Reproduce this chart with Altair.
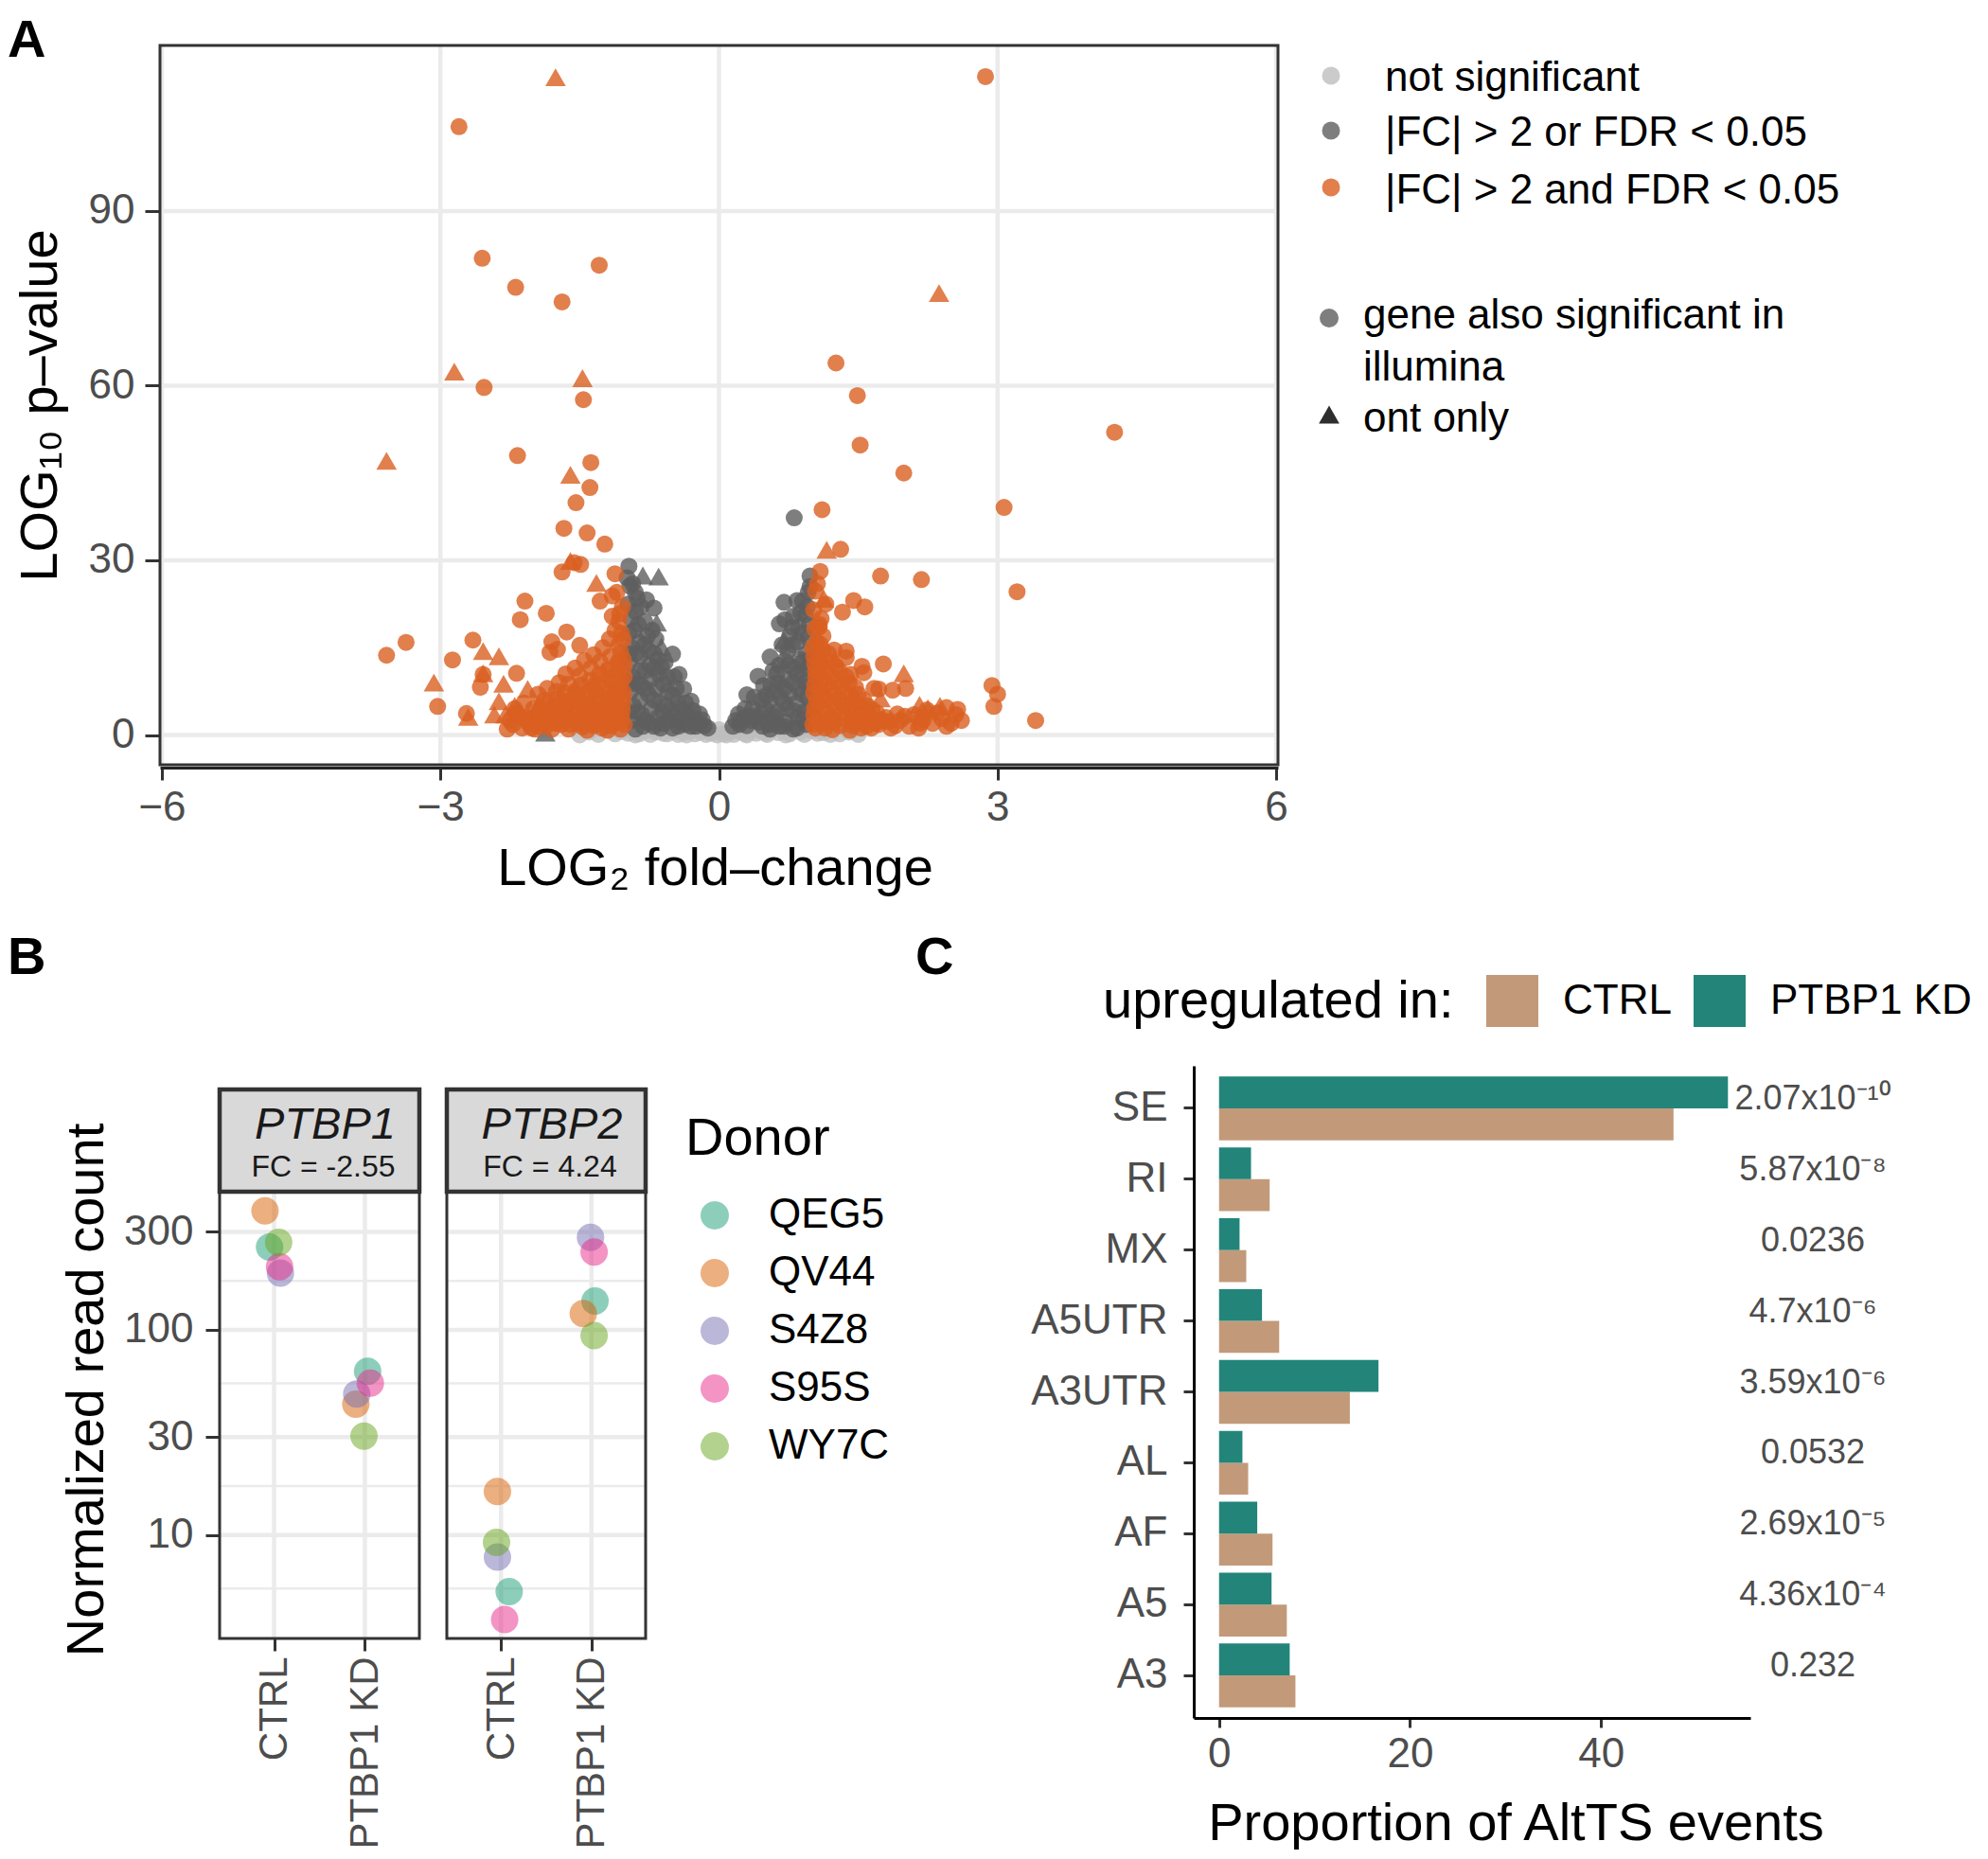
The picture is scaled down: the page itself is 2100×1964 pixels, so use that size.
import altair as alt
import pandas as pd

FONT = "Liberation Sans"
GRID = "#EBEBEB"
TICKLAB = "#4D4D4D"
DARK = "#333333"

# ------------------------------------------------------------------
# Panel A data  (LOG2 fold-change, LOG10 p-value)
# ------------------------------------------------------------------
ns_circles = [(-1.05, 0.6), (-0.98, 0.3), (-0.92, 0.9), (-0.86, 0.2), (-0.8, 0.7), (-0.74, 0.1),
              (-0.68, 0.5), (-0.62, 0.9), (-0.56, 0.2), (-0.5, 0.6), (-0.44, 0.1), (-0.38, 0.4),
              (-0.32, 0.8), (-0.26, 0.2), (-0.2, 0.5), (-0.14, 0.1), (-0.08, 0.3), (-0.02, 0.0),
              (0.04, 0.2), (0.1, 0.4), (0.16, 0.1), (0.22, 0.6), (0.28, 0.2), (0.34, 0.8), (0.4, 0.3),
              (0.46, 0.6), (0.52, 0.1), (0.58, 0.9), (0.64, 0.4), (0.7, 0.7), (0.76, 0.2), (0.82, 1.0),
              (0.88, 0.5), (0.94, 1.2), (1.0, 0.7), (1.06, 0.3), (-1.12, 0.2), (1.12, 0.4), (-0.95, 1.6),
              (0.95, 1.8), (-0.7, 1.2), (0.7, 1.4), (-0.45, 1.0), (0.45, 1.1), (-1.3, 0.1), (1.3, 0.2),
              (-1.5, 0.0), (1.5, 0.1),
              (-1.4, 0.5), (-1.2, 0.9), (-1.1, 1.2), (-0.9, 0.0), (-0.8, 1.5), (-0.6, 0.3), (-0.5, 1.3),
              (-0.35, 0.0), (-0.25, 1.0), (-0.1, 0.6), (0.0, 0.9), (0.08, 0.0), (0.2, 1.0), (0.3, 0.0),
              (0.4, 1.3), (0.5, 0.3), (0.62, 1.6), (0.72, 0.0), (0.85, 1.5), (0.92, 0.1), (1.02, 1.4),
              (1.1, 0.8), (1.2, 0.1), (1.4, 0.5), (1.2, 1.2), (-1.0, 2.0), (1.0, 2.2)]
ns_triangles = [(-0.86, 2.0), (-0.57, 1.8), (-0.36, 2.0), (-0.33, 1.4), (0.75, 2.0), (0.6, 1.5), (-0.75, 1.3)]

one_circles = [(-0.97, 29.0), (-0.96, 25.6), (-0.78, 23.2), (-0.70, 21.8), (-0.90, 21.2), (-0.72, 18.0),
               (-0.50, 13.9), (-0.43, 10.4), (-0.38, 7.9), (-0.30, 5.8), (-0.21, 3.6),
               (-0.98, 22.5), (-0.95, 20.0), (-0.97, 17.5), (-0.94, 15.0), (-0.96, 12.5), (-0.93, 10.0),
               (-0.95, 7.5), (-0.92, 5.0), (-0.94, 2.5), (-0.9, 1.0),
               (-0.88, 23.5), (-0.87, 19.0), (-0.86, 16.0), (-0.85, 13.5), (-0.86, 11.0), (-0.84, 8.5),
               (-0.85, 6.0), (-0.83, 3.5), (-0.82, 1.5),
               (-0.77, 17.0), (-0.76, 14.5), (-0.75, 12.0), (-0.74, 9.5), (-0.76, 7.0), (-0.73, 4.5), (-0.75, 2.0),
               (-0.68, 16.5), (-0.66, 13.0), (-0.65, 10.5), (-0.67, 8.0), (-0.64, 5.5), (-0.66, 3.0), (-0.63, 1.2),
               (-0.58, 12.5), (-0.56, 10.0), (-0.55, 7.5), (-0.57, 5.0), (-0.54, 2.5),
               (-0.48, 10.0), (-0.46, 8.0), (-0.45, 5.5), (-0.47, 3.2), (-0.44, 1.5),
               (-0.36, 5.5), (-0.35, 3.5), (-0.37, 1.8), (-0.28, 4.2), (-0.26, 2.8), (-0.25, 1.5),
               (-0.18, 2.6), (-0.16, 1.6), (-0.12, 1.2),
               (-0.99, 27.0), (-0.93, 26.0), (-0.9, 24.5), (-0.84, 22.0), (-0.8, 19.5), (-0.91, 18.0),
               (-0.8, 15.5), (-0.89, 14.0), (-0.7, 14.0), (-0.8, 11.0), (-0.9, 8.8), (-0.7, 11.5),
               (-0.62, 11.8), (-0.8, 8.0), (-0.6, 8.8), (-0.7, 6.0), (-0.88, 4.0), (-0.5, 6.8),
               (-0.6, 3.8), (-0.8, 2.5), (-0.41, 4.5), (-0.52, 4.2), (-0.7, 1.5), (-0.32, 3.0),
               (-0.42, 2.5), (-0.6, 2.0), (-0.22, 2.0), (-0.3, 1.5), (-0.5, 1.2), (-0.98, 9.0),
               (-0.98, 4.0), (-0.97, 14.0),
               (0.81, 37.3), (0.98, 27.3), (0.70, 22.8), (0.84, 23.1), (0.65, 19.1), (0.80, 20.4),
               (0.93, 20.7), (0.96, 16.6), (0.55, 13.4), (0.42, 10.1), (0.30, 6.9), (0.21, 3.6),
               (0.96, 24.5), (0.95, 22.0), (0.97, 19.0), (0.94, 14.0), (0.96, 11.5), (0.93, 9.0),
               (0.95, 6.5), (0.92, 4.0), (0.94, 1.8),
               (0.86, 18.5), (0.85, 16.0), (0.87, 13.0), (0.84, 10.5), (0.86, 8.0), (0.83, 5.5),
               (0.85, 3.0), (0.84, 1.2),
               (0.76, 17.0), (0.74, 14.5), (0.75, 12.0), (0.73, 9.5), (0.76, 7.0), (0.74, 4.5), (0.72, 2.2),
               (0.68, 15.5), (0.65, 12.0), (0.64, 9.0), (0.66, 6.5), (0.63, 4.0), (0.65, 1.5),
               (0.58, 11.0), (0.56, 8.5), (0.55, 6.0), (0.57, 3.5), (0.54, 1.8),
               (0.48, 8.5), (0.46, 6.0), (0.45, 3.8), (0.47, 1.5),
               (0.38, 6.5), (0.36, 4.5), (0.35, 2.5), (0.28, 4.5), (0.26, 2.8), (0.18, 2.5), (0.15, 1.5),
               (0.98, 25.5), (0.9, 23.0), (0.88, 21.0), (0.79, 18.5), (0.9, 17.5), (0.71, 19.8),
               (0.79, 15.5), (0.9, 12.5), (0.71, 12.8), (0.8, 11.5), (0.9, 10.5), (0.62, 10.5),
               (0.8, 9.0), (0.7, 8.0), (0.9, 7.0), (0.6, 7.5), (0.51, 6.8), (0.7, 5.5), (0.8, 4.2),
               (0.5, 4.5), (0.6, 3.0), (0.9, 2.6), (0.41, 3.0), (0.7, 1.5), (0.32, 3.2), (0.43, 2.2),
               (0.8, 1.0), (0.22, 1.8), (0.3, 1.6), (0.55, 1.0), (0.98, 13.0), (0.98, 8.5), (0.98, 4.5)]
one_triangles = [(-0.82, 27.4), (-0.65, 27.2), (-0.67, 19.3), (-1.87, 0.4), (0.70, 16.3), (-0.62, 15.2)]

both_circles = [
    # isolated, left
    (-2.80, 104.5), (-2.55, 81.9), (-1.29, 80.7), (-2.19, 76.9), (-1.69, 74.4), (-2.53, 59.7),
    (-1.46, 57.6), (-2.17, 48.0), (-1.38, 46.8), (-1.39, 42.5), (-1.54, 39.9), (-1.67, 35.5),
    (-1.42, 34.7), (-1.23, 32.8), (-1.49, 29.3), (-1.56, 29.6), (-1.69, 28.0), (-1.12, 27.7),
    (-1.15, 23.9), (-1.28, 23.0), (-2.09, 23.0), (-1.86, 20.9), (-2.14, 19.8), (-1.15, 20.4),
    (-3.37, 15.9), (-3.58, 13.7), (-2.65, 16.3), (-2.87, 12.9), (-1.64, 17.7), (-1.80, 16.0),
    (-1.50, 15.4), (-1.82, 14.2), (-1.74, 14.7), (-2.18, 10.6), (-2.54, 10.4), (-2.57, 8.2),
    (-3.03, 4.9), (-2.72, 3.7),
    # dense, left
    (-2.25, 2.5), (-2.15, 3.2), (-2.05, 2.0), (-2.0, 4.5), (-1.95, 1.5), (-1.9, 3.5), (-1.88, 6.0),
    (-1.82, 2.5), (-1.78, 4.8), (-1.75, 7.5), (-1.7, 1.8), (-1.68, 3.6), (-1.65, 5.8), (-1.62, 8.8),
    (-1.58, 2.6), (-1.55, 4.4), (-1.52, 6.8), (-1.5, 10.2), (-1.47, 1.4), (-1.45, 3.2), (-1.43, 5.2),
    (-1.4, 7.6), (-1.38, 11.5), (-1.36, 2.2), (-1.34, 4.1), (-1.32, 6.2), (-1.3, 8.8), (-1.28, 12.6),
    (-1.26, 1.2), (-1.24, 3.0), (-1.22, 5.0), (-1.2, 7.0), (-1.18, 9.6), (-1.17, 13.5), (-1.15, 2.0),
    (-1.13, 4.0), (-1.12, 6.0), (-1.1, 8.2), (-1.09, 11.0), (-1.08, 15.5), (-1.06, 1.0), (-1.05, 3.0),
    (-1.04, 5.2), (-1.03, 7.4), (-1.02, 10.0), (-1.03, 13.0), (-1.05, 17.5), (-1.08, 19.5),
    (-1.04, 22.0), (-1.1, 24.5), (-1.12, 18.0), (-1.18, 16.5), (-1.25, 15.0), (-1.35, 13.8),
    (-1.45, 12.8), (-1.55, 11.5), (-1.65, 10.5), (-1.72, 9.0), (-1.85, 8.0), (-1.95, 7.0),
    (-2.1, 5.5), (-2.2, 4.5), (-1.62, 1.0), (-1.8, 1.0), (-1.98, 1.0), (-2.12, 1.2), (-1.42, 0.8), (-1.2, 0.8),
    (-2.28, 1.0), (-2.22, 1.8), (-2.18, 3.8), (-2.08, 2.8), (-2.02, 1.2), (-1.98, 3.2), (-1.92, 4.6),
    (-1.9, 2.2), (-1.86, 1.6), (-1.84, 5.4), (-1.8, 3.4), (-1.76, 2.0), (-1.74, 6.2), (-1.72, 4.2),
    (-1.69, 2.8), (-1.66, 7.2), (-1.64, 4.8), (-1.6, 1.8), (-1.6, 6.0), (-1.57, 3.6), (-1.54, 7.6),
    (-1.53, 2.0), (-1.5, 5.6), (-1.48, 8.6), (-1.46, 3.9), (-1.44, 2.4), (-1.41, 6.6), (-1.39, 9.4),
    (-1.37, 4.8), (-1.35, 1.6), (-1.33, 7.4), (-1.31, 3.4), (-1.29, 10.4), (-1.27, 5.8), (-1.25, 2.4),
    (-1.23, 8.2), (-1.21, 4.2), (-1.19, 11.2), (-1.17, 6.4), (-1.16, 1.6), (-1.14, 9.0), (-1.12, 3.2),
    (-1.1, 5.2), (-1.08, 12.6), (-1.07, 7.6), (-1.06, 2.4), (-1.05, 9.2), (-1.04, 4.2), (-1.03, 6.4),
    (-1.02, 11.8), (-1.02, 1.8), (-1.06, 14.2), (-1.03, 16.4), (-1.07, 20.8),
    # isolated, right
    (2.87, 113.1), (1.26, 63.9), (1.49, 58.3), (4.26, 52.0), (1.52, 49.8), (1.99, 45.0), (1.11, 38.7),
    (3.07, 39.1), (1.31, 31.9), (1.09, 28.1), (1.74, 27.3), (2.18, 26.7), (3.21, 24.6), (1.04, 24.7),
    (1.45, 23.1), (1.57, 22.0), (1.33, 21.1), (1.08, 18.5), (1.24, 14.6), (1.37, 14.4), (1.37, 13.3),
    (1.54, 11.8), (1.77, 12.2), (1.42, 10.4), (1.56, 10.7), (1.72, 7.9), (1.87, 7.7), (2.01, 8.0),
    (2.94, 8.5), (3.00, 7.0), (2.96, 4.9), (3.41, 2.5), (2.24, 4.3), (2.45, 4.7), (2.57, 4.4),
    (2.61, 2.5), (2.17, 2.0), (2.18, 3.0), (1.92, 3.6), (1.69, 2.0), (1.82, 2.3), (1.67, 8.0),
    # dense, right
    (1.02, 21.5), (1.05, 16.0), (1.1, 20.0), (1.12, 17.0), (1.02, 13.5), (1.04, 11.0), (1.03, 8.5),
    (1.05, 6.0), (1.02, 3.5), (1.04, 1.2), (1.12, 14.5), (1.1, 12.0), (1.13, 9.5), (1.11, 7.0),
    (1.14, 4.5), (1.1, 2.0), (1.2, 12.5), (1.22, 10.0), (1.19, 7.8), (1.23, 5.5), (1.2, 3.0),
    (1.22, 0.9), (1.3, 11.0), (1.32, 8.5), (1.29, 6.2), (1.33, 4.0), (1.3, 1.6), (1.4, 9.0),
    (1.42, 6.8), (1.39, 4.6), (1.43, 2.4), (1.41, 0.8), (1.5, 7.0), (1.52, 5.0), (1.49, 3.0),
    (1.53, 1.2), (1.6, 5.0), (1.62, 3.2), (1.59, 1.5), (1.7, 3.8), (1.72, 1.8), (1.8, 3.0),
    (1.85, 1.2), (1.95, 2.5), (2.05, 1.5), (2.1, 3.5), (2.3, 2.0), (2.45, 1.5), (2.35, 3.8),
    (1.06, 26.0), (1.15, 22.5), (1.08, 19.0),
    (1.01, 1.8), (1.03, 4.6), (1.02, 7.2), (1.04, 9.8), (1.03, 12.2), (1.01, 15.0), (1.03, 18.2),
    (1.06, 2.6), (1.07, 5.4), (1.08, 8.0), (1.07, 10.8), (1.08, 13.2), (1.09, 15.6), (1.14, 1.2),
    (1.16, 3.6), (1.15, 6.2), (1.17, 8.8), (1.16, 11.2), (1.18, 14.0), (1.24, 2.2), (1.26, 4.6),
    (1.25, 7.0), (1.27, 9.2), (1.26, 11.8), (1.34, 2.8), (1.36, 5.2), (1.35, 7.4), (1.37, 10.0),
    (1.44, 1.6), (1.46, 3.8), (1.45, 5.8), (1.47, 8.2), (1.55, 2.2), (1.57, 4.2), (1.56, 6.0),
    (1.64, 1.2), (1.66, 2.6), (1.65, 4.4), (1.75, 2.6), (1.9, 1.6), (2.0, 3.2), (2.15, 1.2),
    (2.2, 2.6), (2.4, 2.8), (2.5, 2.0), (2.55, 3.5)]
both_triangles = [(-1.76, 113.0), (-2.85, 62.4), (-1.47, 61.3), (-3.58, 47.1), (-1.60, 44.7),
                  (-1.60, 29.9), (-1.32, 26.1), (-2.54, 14.4), (-2.37, 13.5), (-3.07, 9.0),
                  (-2.54, 10.6), (-2.32, 8.8), (-2.70, 3.1), (-2.37, 5.8), (-2.42, 3.5), (-2.06, 7.9),
                  (-2.20, 5.0), (-2.3, 3.5), (-1.95, 5.0), (-1.7, 6.5), (-1.55, 8.0), (-1.35, 9.5),
                  (-1.25, 11.0), (-1.15, 12.0), (-2.05, 3.0), (-1.85, 4.0), (-1.6, 3.0), (-1.4, 2.0),
                  (2.37, 75.9), (1.16, 31.8), (1.13, 23.4), (1.99, 10.6), (2.16, 5.2), (2.38, 5.0),
                  (1.74, 6.3), (1.25, 13.0), (1.55, 3.5), (2.25, 4.6)]
a_x_breaks = [-6, -3, 0, 3, 6]
a_y_breaks = [0, 30, 60, 90]
a_color_labels = ["not significant", "|FC| > 2 or FDR < 0.05", "|FC| > 2 and FDR < 0.05"]
a_shape_labels = ["gene also significant in", "illumina", "ont only"]

# ------------------------------------------------------------------
# Panel B data
# ------------------------------------------------------------------
b_gene = ["PTBP1"] * 10 + ["PTBP2"] * 10
b_cond = (["CTRL"] * 5 + ["PTBP1 KD"] * 5) * 2
b_donor = ["QEG5", "QV44", "S4Z8", "S95S", "WY7C"] * 4
b_count = [253, 380, 189, 203, 267,
           62.8, 43.4, 48.6, 55.0, 30.3,
           5.3, 16.3, 7.8, 3.87, 9.2,
           138, 120, 282, 239, 93.6]
b_jitter = [-0.05, -0.10, 0.07, 0.06, 0.05,
            0.03, -0.10, -0.09, 0.06, -0.01,
            0.09, -0.04, -0.04, 0.04, -0.05,
            0.04, -0.09, -0.01, 0.03, 0.03]
b_fc = {"PTBP1": "FC = -2.55", "PTBP2": "FC = 4.24"}
b_y_breaks = [10, 30, 100, 300]
b_y_minor = [5.48, 17.3, 54.8, 173]
donors = ["QEG5", "QV44", "S4Z8", "S95S", "WY7C"]
donor_colors = ["#1B9E77", "#D95F02", "#7570B3", "#E7298A", "#66A61E"]

# ------------------------------------------------------------------
# Panel C data
# ------------------------------------------------------------------
events = ["SE", "RI", "MX", "A5UTR", "A3UTR", "AL", "AF", "A5", "A3"]
ctrl_prop = [47.6, 5.3, 2.85, 6.3, 13.7, 3.05, 5.6, 7.1, 8.0]
kd_prop = [53.3, 3.35, 2.15, 4.5, 16.7, 2.45, 4.0, 5.5, 7.4]
pvals = ["2.07x10⁻¹⁰", "5.87x10⁻⁸", "0.0236", "4.7x10⁻⁶", "3.59x10⁻⁶",
         "0.0532", "2.69x10⁻⁵", "4.36x10⁻⁴", "0.232"]
c_x_breaks = [0, 20, 40]

one = pd.DataFrame({"k": [0]})


def text_at(s, x, y, size=44, align="left", baseline="middle", color="black", **kw):
    return alt.Chart(one).mark_text(text=s, fontSize=size, align=align, baseline=baseline,
                                    color=color, **kw).encode(x=alt.value(x), y=alt.value(y))


def key_at(shape, color, x, y, size, opacity=0.8):
    return alt.Chart(one).mark_point(shape=shape, filled=True, color=color, opacity=opacity,
                                     size=size, strokeWidth=0).encode(x=alt.value(x), y=alt.value(y))


# ============================ Panel A ============================
rows = []
for cat, shp, pts in [("ns", "circle", ns_circles), ("ns", "triangle", ns_triangles),
                      ("one", "circle", one_circles), ("one", "triangle", one_triangles),
                      ("both", "circle", both_circles), ("both", "triangle", both_triangles)]:
    for lfc, lp in pts:
        rows.append({"lfc": lfc, "logp": lp, "cat": cat, "shp": shp})
dfA = pd.DataFrame(rows)
dfA["ord"] = range(len(dfA))

WA, HA = 1181, 760
xA_scale = alt.Scale(domain=[-6.02, 6.02], nice=False, zero=False)
yA_scale = alt.Scale(domain=[-5.12, 118.45], nice=False, zero=False)
xA_axis = alt.Axis(values=a_x_breaks, grid=False, domainColor="#222222", domainWidth=3, offset=3,
                   tickSize=13, tickWidth=3, tickColor=DARK, labelFontSize=44, labelColor=TICKLAB,
                   labelPadding=7, labelFlush=False, title="LOG₂ fold–change", titleFontSize=56,
                   titleFontWeight="normal", titleColor="black", titleX=586, titleY=123,
                   titleBaseline="alphabetic")
yA_axis = alt.Axis(values=a_y_breaks, grid=False, domain=False, tickSize=16, tickWidth=3,
                   tickColor=DARK, labelFontSize=44, labelColor=TICKLAB, labelPadding=11,
                   title="LOG₁₀ p–value", titleFontSize=56, titleFontWeight="normal",
                   titleColor="black", titleX=-110, titleY=380, titleBaseline="alphabetic")

gridAx = alt.Chart(pd.DataFrame({"lfc": a_x_breaks})).mark_rule(color=GRID, strokeWidth=4.5).encode(
    x=alt.X("lfc:Q", scale=xA_scale, axis=xA_axis))
gridAy = alt.Chart(pd.DataFrame({"logp": a_y_breaks})).mark_rule(color=GRID, strokeWidth=4.5).encode(
    y=alt.Y("logp:Q", scale=yA_scale, axis=yA_axis))
ptsA = alt.Chart(dfA).mark_point(filled=True, opacity=0.8, strokeWidth=0).encode(
    x=alt.X("lfc:Q", scale=xA_scale, axis=xA_axis),
    y=alt.Y("logp:Q", scale=yA_scale, axis=yA_axis),
    color=alt.Color("cat:N", scale=alt.Scale(domain=["ns", "one", "both"],
                                             range=["#BEBEBE", "#5E5E5E", "#D95F20"]), legend=None),
    shape=alt.Shape("shp:N", scale=alt.Scale(domain=["circle", "triangle"],
                                             range=["circle", "triangle-up"]), legend=None),
    size=alt.Size("shp:N", scale=alt.Scale(domain=["circle", "triangle"], range=[324, 470]), legend=None),
    order=alt.Order("ord:Q"),
)
borderA = alt.Chart(one).mark_rect(fill="transparent", stroke=DARK, strokeWidth=3).encode(
    x=alt.value(0), x2=alt.value(WA), y=alt.value(0), y2=alt.value(HA))

legendA = [
    key_at("circle", "#BEBEBE", 1237, 32, 361),
    key_at("circle", "#5E5E5E", 1237, 90, 361),
    key_at("circle", "#D95F20", 1237, 150, 361),
    text_at(a_color_labels[0], 1294, 35),
    text_at(a_color_labels[1], 1294, 93),
    text_at(a_color_labels[2], 1294, 154),
    key_at("circle", "#5E5E5E", 1235, 288, 400),
    key_at("triangle-up", "#2E2E2E", 1235, 390, 470, opacity=1),
    text_at(a_shape_labels[0], 1271, 286),
    text_at(a_shape_labels[1], 1271, 341),
    text_at(a_shape_labels[2], 1271, 395),
]
labelA = text_at("A", -161, -32, size=56, baseline="top", fontWeight="bold")

panelA = alt.layer(gridAx, gridAy, ptsA, borderA, *legendA, labelA).properties(width=WA, height=HA)

# ============================ Panel B ============================
dfB = pd.DataFrame({"gene": b_gene, "cond": b_cond, "donor": b_donor,
                    "count": b_count, "jit": b_jitter})
HB = 605
PB_TOP = 133
STRIP_TOP = 25


def panel_b(gene, width, show_y, show_legend, tag=None):
    d = dfB[dfB["gene"] == gene]
    ySc = alt.Scale(type="log", domain=[3.13, 471], range=[HB, PB_TOP], nice=False)
    if show_y:
        yAx = alt.Axis(values=b_y_breaks, format="d", grid=False, domain=False, tickSize=15,
                       tickWidth=3, tickColor=DARK, labelFontSize=44, labelColor=TICKLAB,
                       labelPadding=13, title="Normalized read count", titleFontSize=56,
                       titleFontWeight="normal", titleColor="black", titleX=-124, titleY=342,
                       titleBaseline="alphabetic", titleLimit=1000)
    else:
        yAx = None
    xSc = alt.Scale(domain=[0.4, 2.6], nice=False, zero=False)
    xAx = alt.Axis(values=[1, 2], labelExpr="datum.value == 1 ? 'CTRL' : 'PTBP1 KD'",
                   labelAngle=270, grid=False, domain=False, tickSize=13, tickWidth=3,
                   tickColor=DARK, labelFontSize=42, labelColor=TICKLAB, labelPadding=6,
                   labelFlush=False, labelLimit=600, labelOverlap=False, title=None)
    if show_legend:
        leg = alt.Legend(title="Donor", orient="none", legendX=252, legendY=50, padding=0,
                         titleFontSize=56, titleFontWeight="normal", titleColor="black",
                         titlePadding=30, labelFontSize=44, labelColor="black", labelLimit=600,
                         symbolType="circle", symbolSize=900, symbolOpacity=0.5,
                         symbolStrokeWidth=0, rowPadding=17, labelOffset=35, symbolOffset=9)
    else:
        leg = None
    minor = alt.Chart(pd.DataFrame({"count": b_y_minor})).mark_rule(color=GRID, strokeWidth=2.5).encode(
        y=alt.Y("count:Q", scale=ySc, axis=yAx))
    major = alt.Chart(pd.DataFrame({"count": b_y_breaks})).mark_rule(color=GRID, strokeWidth=4.5).encode(
        y=alt.Y("count:Q", scale=ySc, axis=yAx))
    vert = alt.Chart(pd.DataFrame({"xpos": [1, 2]})).mark_rule(color=GRID, strokeWidth=4.5).encode(
        x=alt.X("xpos:Q", scale=xSc, axis=xAx), y=alt.value(PB_TOP), y2=alt.value(HB))
    border = alt.Chart(one).mark_rect(fill="transparent", stroke=DARK, strokeWidth=3).encode(
        x=alt.value(0), x2=alt.value(width), y=alt.value(PB_TOP), y2=alt.value(HB))
    strip = alt.Chart(one).mark_rect(fill="#D9D9D9", stroke=DARK, strokeWidth=4.5).encode(
        x=alt.value(0), x2=alt.value(width), y=alt.value(STRIP_TOP), y2=alt.value(PB_TOP))
    gtxt = text_at(gene, width / 2 + 6, 63, size=47, align="center", color="#1A1A1A", fontStyle="italic")
    fctxt = text_at(b_fc[gene], width / 2 + 4, 107, size=32, align="center", color="#1A1A1A")
    pts = alt.Chart(d).transform_calculate(
        xpos="(datum.cond == 'CTRL' ? 1 : 2) + datum.jit"
    ).mark_circle(size=841, opacity=0.5).encode(
        x=alt.X("xpos:Q", scale=xSc, axis=xAx),
        y=alt.Y("count:Q", scale=ySc, axis=yAx),
        color=alt.Color("donor:N", scale=alt.Scale(domain=donors, range=donor_colors), legend=leg),
    )
    layers = [minor, major, vert, border, strip, gtxt, fctxt, pts]
    if tag is not None:
        layers.append(tag)
    return alt.layer(*layers).properties(width=width, height=HB)


labelB = text_at("B", -224, -141, size=56, baseline="top", fontWeight="bold")
panelB1 = panel_b("PTBP1", 211, True, False, labelB)
panelB2 = panel_b("PTBP2", 210, False, True)

# ============================ Panel C ============================
dfC = pd.DataFrame({"event": events * 2, "grp": ["CTRL"] * 9 + ["PTBP1 KD"] * 9,
                    "prop": ctrl_prop + kd_prop})
dfP = pd.DataFrame({"event": events, "pval": pvals})
WC, HC = 588, 689
yC_scale = alt.Scale(domain=events, paddingInner=0.1, paddingOuter=0.15)
yC_axis = alt.Axis(title=None, domainColor="black", domainWidth=3, tickColor=DARK, tickSize=11,
                   tickWidth=3, labelFontSize=44, labelColor=TICKLAB, labelPadding=17, grid=False)
xC_scale = alt.Scale(domain=[-2.65, 55.65], nice=False, zero=False)
xC_axis = alt.Axis(values=c_x_breaks, grid=False, domainColor="black", domainWidth=3, tickSize=10,
                   tickWidth=3, tickColor=DARK, labelFontSize=44, labelColor=TICKLAB,
                   labelPadding=6, labelFlush=False, title="Proportion of AltTS events",
                   titleFontSize=56, titleFontWeight="normal", titleColor="black",
                   titleX=340, titleY=128, titleBaseline="alphabetic", titleLimit=1000)
legC = alt.Legend(title="upregulated in:", orient="none", direction="horizontal", legendX=-96,
                  legendY=-96, padding=0, titleOrient="left", titleAnchor="middle",
                  titleBaseline="middle", titleFontSize=56, titleFontWeight="normal",
                  titleColor="black", titlePadding=34, titleLimit=1000, labelFontSize=44,
                  labelColor="black", labelLimit=1000, symbolType="square", symbolSize=3025,
                  symbolOpacity=1, symbolStrokeWidth=0, labelOffset=26, columnPadding=23)
bars = alt.Chart(dfC).mark_bar().encode(
    y=alt.Y("event:N", scale=yC_scale, axis=yC_axis),
    yOffset=alt.YOffset("grp:N", scale=alt.Scale(domain=["PTBP1 KD", "CTRL"], paddingInner=0, paddingOuter=0)),
    x=alt.X("prop:Q", stack=None, scale=xC_scale, axis=xC_axis),
    x2=alt.datum(0),
    color=alt.Color("grp:N", scale=alt.Scale(domain=["CTRL", "PTBP1 KD"], range=["#C29A7A", "#23857A"]),
                    legend=legC),
)
ptext = alt.Chart(dfP).mark_text(fontSize=36, color=TICKLAB, align="center", baseline="middle", dy=-10).encode(
    y=alt.Y("event:N", scale=yC_scale, axis=yC_axis),
    x=alt.value(654),
    text="pval:N",
)
labelC = text_at("C", -294, -141, size=56, baseline="top", fontWeight="bold")
panelC = alt.layer(bars, ptext, labelC).properties(width=WC, height=HC)


def spacer(w):
    return alt.Chart(one).mark_point(opacity=0).encode(
        x=alt.X("k:Q", axis=None), y=alt.Y("k:Q", axis=None)).properties(width=w, height=10)


bottom = alt.hconcat(spacer(34), panelB1, panelB2, spacer(521), panelC,
                     spacing=29, bounds="flush").resolve_scale(color="independent")
chart = alt.vconcat(panelA, bottom, spacing=318, bounds="flush").resolve_scale(
    color="independent").properties(
    padding={"left": 0, "top": 7, "right": 0, "bottom": 0}
).configure(font=FONT).configure_view(strokeWidth=0)

chart.save("out.html", embed_options={"renderer": "svg", "actions": False})
